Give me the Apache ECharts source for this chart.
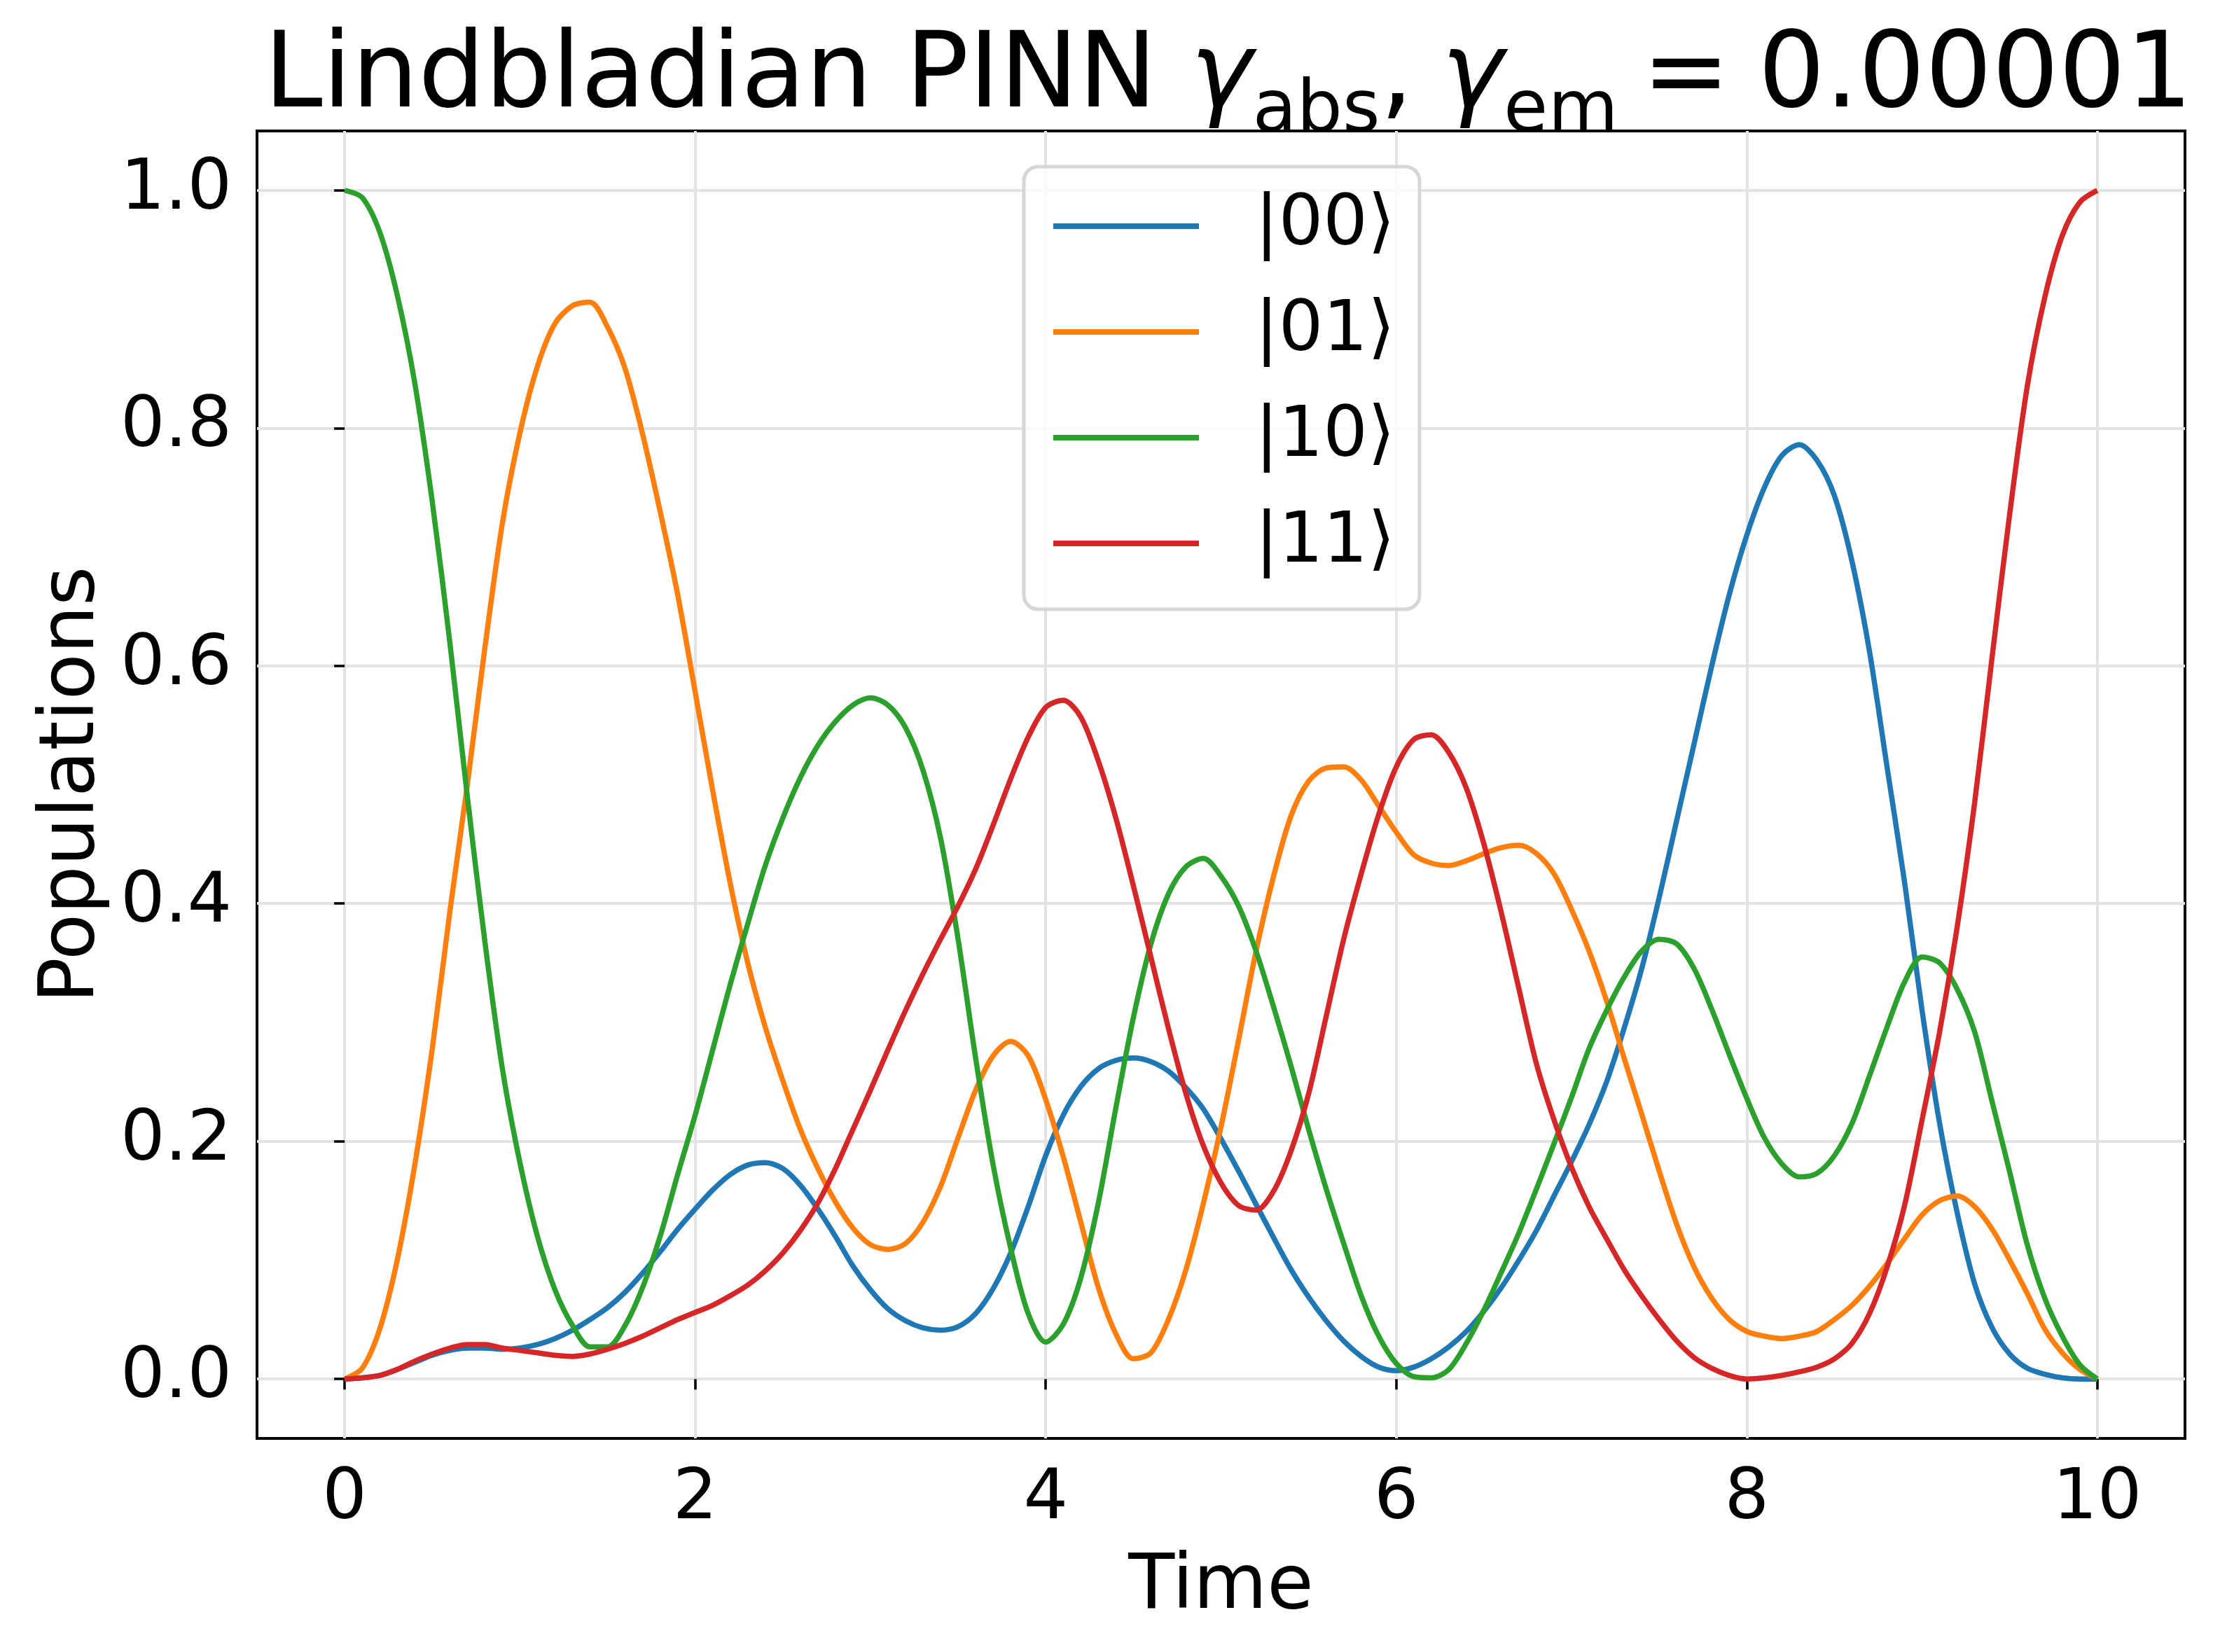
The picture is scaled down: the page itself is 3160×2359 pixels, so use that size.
<!DOCTYPE html>
<html>
<head>
<meta charset="utf-8">
<script src="https://cdn.jsdelivr.net/npm/echarts@6/dist/echarts.min.js"></script>
<style>
  html, body { margin: 0; padding: 0; background: #fff; }
  #chart { width: 3160px; height: 2359px; }
</style>
</head>
<body>
<div id="chart"></div>
<script>
// time grid, values read every 0.1
const times = [0, 0.1, 0.2, 0.3, 0.4, 0.5, 0.6, 0.7, 0.8, 0.9,
  1.0, 1.1, 1.2, 1.3, 1.4, 1.5, 1.6, 1.7, 1.8, 1.9,
  2.0, 2.1, 2.2, 2.3, 2.4, 2.5, 2.6, 2.7, 2.8, 2.9,
  3.0, 3.1, 3.2, 3.3, 3.4, 3.5, 3.6, 3.7, 3.8, 3.9,
  4.0, 4.1, 4.2, 4.3, 4.4, 4.5, 4.6, 4.7, 4.8, 4.9,
  5.0, 5.1, 5.2, 5.3, 5.4, 5.5, 5.6, 5.7, 5.8, 5.9,
  6.0, 6.1, 6.2, 6.3, 6.4, 6.5, 6.6, 6.7, 6.8, 6.9,
  7.0, 7.1, 7.2, 7.3, 7.4, 7.5, 7.6, 7.7, 7.8, 7.9,
  8.0, 8.1, 8.2, 8.3, 8.4, 8.5, 8.6, 8.7, 8.8, 8.9,
  9.0, 9.1, 9.2, 9.3, 9.4, 9.5, 9.6, 9.7, 9.8, 9.9, 10.0];

// |00>
const pop00 = [0, 0.001, 0.003, 0.008, 0.014, 0.02, 0.024, 0.026, 0.026, 0.025,
  0.026, 0.029, 0.034, 0.041, 0.05, 0.06, 0.073, 0.089, 0.107, 0.126,
  0.143, 0.159, 0.172, 0.18, 0.182, 0.177, 0.163, 0.143, 0.12, 0.095,
  0.075, 0.059, 0.049, 0.043, 0.041, 0.044, 0.055, 0.076, 0.106, 0.145,
  0.188, 0.222, 0.246, 0.261, 0.268, 0.27, 0.267, 0.259, 0.245, 0.227,
  0.202, 0.175, 0.147, 0.119, 0.092, 0.069, 0.049, 0.032, 0.019, 0.01,
  0.007, 0.01, 0.017, 0.027, 0.04, 0.057, 0.077, 0.1, 0.125, 0.154,
  0.183, 0.214, 0.25, 0.295, 0.345, 0.405, 0.47, 0.535, 0.6, 0.66,
  0.71, 0.75, 0.777, 0.786, 0.773, 0.743, 0.688, 0.612, 0.515, 0.418,
  0.31, 0.215, 0.14, 0.08, 0.043, 0.021, 0.009, 0.004, 0.001, 0, 0];

// |01>
const pop01 = [0, 0.009, 0.042, 0.1, 0.18, 0.278, 0.393, 0.5, 0.615, 0.72,
  0.796, 0.852, 0.888, 0.903, 0.906, 0.885, 0.85, 0.795, 0.73, 0.66,
  0.578, 0.495, 0.417, 0.35, 0.296, 0.251, 0.21, 0.177, 0.149, 0.127,
  0.113, 0.109, 0.114, 0.132, 0.162, 0.203, 0.243, 0.272, 0.284, 0.272,
  0.235, 0.187, 0.132, 0.077, 0.038, 0.017, 0.022, 0.05, 0.092, 0.148,
  0.212, 0.285, 0.36, 0.423, 0.474, 0.503, 0.514, 0.515, 0.504, 0.482,
  0.46, 0.441, 0.434, 0.432, 0.436, 0.442, 0.447, 0.449, 0.442, 0.425,
  0.395, 0.36, 0.318, 0.27, 0.223, 0.175, 0.13, 0.094, 0.068, 0.05,
  0.04, 0.036, 0.034, 0.036, 0.04, 0.05, 0.062, 0.078, 0.097, 0.118,
  0.138, 0.15, 0.154, 0.145, 0.126, 0.1, 0.072, 0.042, 0.022, 0.008, 0];

// |10>
const pop10 = [1.0, 0.994, 0.965, 0.912, 0.838, 0.738, 0.62, 0.49, 0.368, 0.261,
  0.182, 0.12, 0.075, 0.045, 0.027, 0.027, 0.045, 0.077, 0.12, 0.172,
  0.222, 0.277, 0.332, 0.383, 0.432, 0.472, 0.506, 0.533, 0.553, 0.567,
  0.573, 0.567, 0.548, 0.512, 0.455, 0.37, 0.27, 0.18, 0.11, 0.055,
  0.031, 0.046, 0.085, 0.148, 0.228, 0.304, 0.366, 0.408, 0.431, 0.438,
  0.423, 0.398, 0.36, 0.313, 0.263, 0.21, 0.16, 0.114, 0.07, 0.036,
  0.013, 0.002, 0.001, 0.008, 0.03, 0.058, 0.09, 0.123, 0.16, 0.198,
  0.237, 0.278, 0.31, 0.338, 0.36, 0.37, 0.366, 0.345, 0.311, 0.273,
  0.236, 0.203, 0.181, 0.17, 0.173, 0.188, 0.215, 0.255, 0.296, 0.334,
  0.355, 0.35, 0.328, 0.292, 0.233, 0.174, 0.113, 0.068, 0.036, 0.012, 0];

// |11>
const pop11 = [0, 0.001, 0.003, 0.008, 0.015, 0.021, 0.026, 0.029, 0.029, 0.026,
  0.024, 0.022, 0.02, 0.019, 0.021, 0.025, 0.03, 0.036, 0.043, 0.05,
  0.056, 0.062, 0.07, 0.079, 0.091, 0.106, 0.125, 0.148, 0.177, 0.21,
  0.243, 0.277, 0.31, 0.341, 0.37, 0.398, 0.429, 0.466, 0.505, 0.54,
  0.565, 0.571, 0.557, 0.52, 0.472, 0.415, 0.355, 0.295, 0.24, 0.196,
  0.165, 0.146, 0.142, 0.158, 0.192, 0.24, 0.305, 0.37, 0.425, 0.475,
  0.515, 0.538, 0.542, 0.527, 0.497, 0.45, 0.392, 0.328, 0.265, 0.218,
  0.178, 0.145, 0.118, 0.092, 0.07, 0.05, 0.032, 0.018, 0.009, 0.003,
  0.0, 0.001, 0.003, 0.006, 0.01, 0.017, 0.03, 0.055, 0.094, 0.146,
  0.218, 0.292, 0.38, 0.485, 0.608, 0.728, 0.835, 0.91, 0.962, 0.99, 1.0];

const seriesNames = ['|00⟩', '|01⟩', '|10⟩', '|11⟩'];
const seriesColors = ['#1f77b4', '#ff7f0e', '#2ca02c', '#d62728'];
const xTicks = [0, 2, 4, 6, 8, 10];
const yTicks = [0, 0.2, 0.4, 0.6, 0.8, 1.0];

const chart = echarts.init(document.getElementById('chart'), null, { renderer: 'canvas' });
const font = 'DejaVu Sans';

const makeSeries = (name, values, color) => ({
  name: name,
  type: 'line',
  data: times.map((t, i) => [t, values[i]]),
  showSymbol: false,
  symbol: 'none',
  smooth: 0.3,
  lineStyle: { color: color, width: 7.5 },
  itemStyle: { color: color }
});

const option = {
  animation: false,
  backgroundColor: '#fff',
  title: {
    text: '{n|Lindbladian PINN }{g1|γ}{s|abs}{n|,}{g2|γ}{s|em}{e|=}{n|0.00001}',
    left: 377,
    top: 13,
    padding: 0,
    textStyle: {
      fontWeight: 'normal',
      rich: {
        n: { fontFamily: font, fontSize: 150, fontWeight: 'normal', color: '#000', lineHeight: 200 },
        e: { fontFamily: font, fontSize: 150, fontWeight: 'normal', color: '#000', lineHeight: 200, padding: [0, 40, 0, 34] },
        g1: { fontFamily: font, fontSize: 150, fontWeight: 'normal', color: '#000', fontStyle: 'italic', lineHeight: 200 },
        g2: { fontFamily: font, fontSize: 150, fontWeight: 'normal', color: '#000', fontStyle: 'italic', lineHeight: 200, padding: [0, 0, 0, 40] },
        s: { fontFamily: font, fontSize: 103, fontWeight: 'normal', color: '#000', padding: [96, 0, 0, 0] }
      }
    }
  },
  legend: {
    show: true,
    orient: 'vertical',
    left: 1462,
    top: 238,
    padding: [35, 35, 44, 38],
    itemWidth: 208,
    itemHeight: 10,
    itemGap: 51,
    backgroundColor: 'rgba(255,255,255,0.8)',
    borderColor: '#d6d6d6',
    borderWidth: 5,
    borderRadius: 20,
    itemStyle: { opacity: 0 },
    lineStyle: { width: 8 },
    textStyle: {
      fontFamily: font,
      fontSize: 100,
      lineHeight: 100,
      color: '#000',
      padding: [0, 0, 0, 75]
    },
    data: seriesNames
  },
  grid: {
    left: 367,
    top: 187,
    width: 2753,
    height: 1867,
    show: true,
    borderColor: '#000',
    borderWidth: 4,
    backgroundColor: 'transparent'
  },
  xAxis: {
    type: 'value',
    min: -0.5,
    max: 10.5,
    name: 'Time',
    nameLocation: 'middle',
    nameGap: 160,
    nameTextStyle: { fontFamily: font, fontSize: 108, color: '#000', verticalAlign: 'top' },
    axisLine: { show: false },
    axisTick: { show: true, inside: false, length: 15, lineStyle: { color: '#000', width: 3.5 }, customValues: xTicks },
    axisLabel: {
      fontFamily: font, fontSize: 100, color: '#000', margin: 38,
      customValues: xTicks,
      formatter: v => String(v)
    },
    splitLine: { show: true, lineStyle: { color: '#e3e3e3', width: 4 } }
  },
  yAxis: {
    type: 'value',
    min: -0.05,
    max: 1.05,
    name: 'Populations',
    nameLocation: 'middle',
    nameGap: 208,
    nameTextStyle: { fontFamily: font, fontSize: 108, color: '#000' },
    axisLine: { show: false },
    axisTick: { show: true, inside: false, length: 15, lineStyle: { color: '#000', width: 3.5 }, customValues: yTicks },
    axisLabel: {
      fontFamily: font, fontSize: 100, color: '#000', margin: 36,
      customValues: yTicks,
      formatter: v => v.toFixed(1)
    },
    splitLine: { show: true, lineStyle: { color: '#e3e3e3', width: 4 } }
  },
  series: [
    makeSeries(seriesNames[0], pop00, seriesColors[0]),
    makeSeries(seriesNames[1], pop01, seriesColors[1]),
    makeSeries(seriesNames[2], pop10, seriesColors[2]),
    makeSeries(seriesNames[3], pop11, seriesColors[3])
  ]
};

chart.setOption(option);
window.addEventListener('resize', () => chart.resize());
</script>
</body>
</html>
